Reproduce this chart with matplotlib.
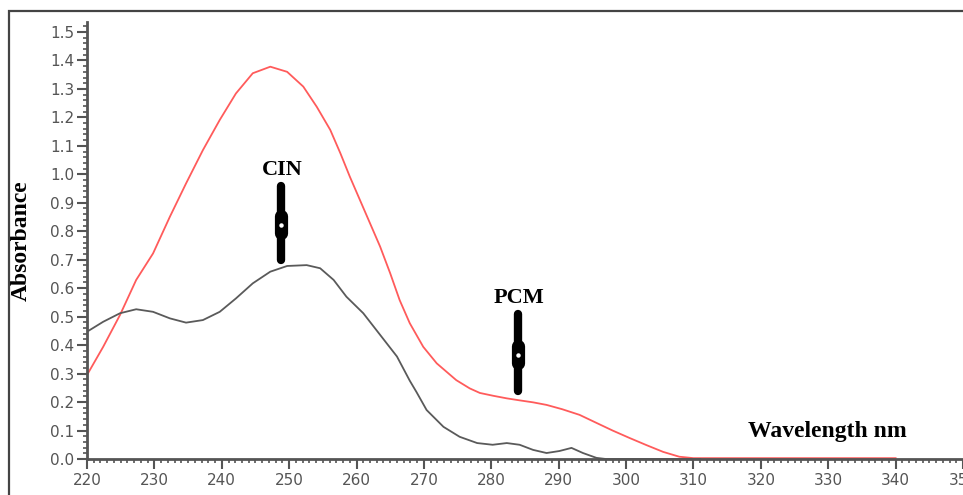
import numpy as np
import matplotlib.pyplot as plt
from matplotlib.ticker import MultipleLocator
from matplotlib.patches import Rectangle

# absorbance spectra (wavelength in nm)
wl_mix = [220, 222.4, 224.9, 227.3, 229.8, 232.3, 234.7, 237.2, 239.7, 242.1,
          244.6, 247.2, 249.7, 252.1, 254.1, 256.1, 257.6, 259.0, 260.5, 262.0,
          263.5, 265.0, 266.4, 267.9, 269.9, 271.9, 274.8, 276.8, 278.3, 280.3,
          282.3, 284.2, 286.2, 288.2, 290.5, 293.1, 295.5, 298.0, 300.5, 303.0,
          305.5, 307.9, 310, 315, 320, 325, 330, 335, 340]
abs_mix = [0.295, 0.394, 0.506, 0.629, 0.722, 0.851, 0.968, 1.085, 1.191, 1.284,
           1.355, 1.378, 1.360, 1.308, 1.237, 1.156, 1.074, 0.992, 0.91, 0.828,
           0.746, 0.652, 0.558, 0.477, 0.394, 0.336, 0.277, 0.248, 0.232, 0.222,
           0.213, 0.206, 0.199, 0.190, 0.175, 0.155, 0.128, 0.100, 0.074, 0.049,
           0.025, 0.008, 0.003, 0.003, 0.003, 0.003, 0.003, 0.003, 0.003]

wl_cin = [220, 222.4, 224.9, 227.3, 229.8, 232.3, 234.7, 237.2, 239.7, 242.1,
          244.6, 247.2, 249.7, 252.6, 254.6, 256.6, 258.5, 261.0, 263.5, 266.0,
          267.9, 268.9, 270.4, 272.9, 275.3, 277.9, 280.2, 282.3, 284.2, 286.2,
          288.2, 290.1, 291.9, 293.6, 295.6, 297.0, 305, 311]
abs_cin = [0.447, 0.482, 0.512, 0.526, 0.517, 0.494, 0.479, 0.488, 0.517, 0.564,
           0.617, 0.658, 0.678, 0.681, 0.670, 0.629, 0.570, 0.512, 0.436, 0.36,
           0.275, 0.235, 0.172, 0.113, 0.078, 0.056, 0.05, 0.056, 0.05, 0.032,
           0.021, 0.028, 0.039, 0.021, 0.004, 0.0, 0.0, 0.0]

# peak markers: label, wavelength, arrow top, arrow bottom
peaks = [('CIN', 248.8, 0.96, 0.70), ('PCM', 283.9, 0.51, 0.24)]

axis_grey = '#555555'

fig = plt.figure(figsize=(9.63, 4.95), dpi=100)
fig.patches.append(Rectangle((9 / 963, -0.1), 1.2, 1 - 11 / 495 + 0.1,
                             transform=fig.transFigure, fill=False,
                             edgecolor='#444444', lw=1.6))
ax = fig.add_axes([87 / 963, 1 - 459 / 495, 1 - 87 / 963, 437 / 495])

ax.plot(wl_mix, abs_mix, color='#ff5b5b', lw=1.3)
ax.plot(wl_cin, abs_cin, color='#5a5a5a', lw=1.3)

for name, x, top, bottom in peaks:
    ax.plot([x, x], [top, bottom], color='black', lw=6,
            solid_capstyle='round')
    mid = bottom + 0.47 * (top - bottom)
    ax.plot([x, x], [mid - 0.03, mid + 0.03], color='black', lw=9.5,
            solid_capstyle='round')
    ax.plot(x, mid, 'o', ms=2.2, color='white')
    ax.text(x + 0.2, top + 0.055, name, ha='center', va='center',
            family='Liberation Serif', weight='bold', fontsize=16)

ax.text(329.8, 0.095, 'Wavelength nm', ha='center', va='center',
        family='Liberation Serif', weight='bold', fontsize=17)
ax.set_ylabel('Absorbance', family='Liberation Serif', weight='bold',
              fontsize=17)
ax.yaxis.set_label_coords(-0.063, 0.5)

ax.set_xlim(220, 350)
ax.set_ylim(0, 1.535)
ax.xaxis.set_major_locator(MultipleLocator(10))
ax.xaxis.set_minor_locator(MultipleLocator(1))
ax.yaxis.set_major_locator(MultipleLocator(0.1))
ax.yaxis.set_minor_locator(MultipleLocator(0.02))
ax.yaxis.set_major_formatter(plt.FormatStrFormatter('%.1f'))

for side in ['top', 'right']:
    ax.spines[side].set_visible(False)
for side in ['left', 'bottom']:
    ax.spines[side].set_color(axis_grey)
    ax.spines[side].set_linewidth(2)
ax.tick_params(which='major', length=7, width=1.5, color=axis_grey,
               labelcolor=axis_grey, labelsize=11)
ax.tick_params(which='minor', length=3, width=1.2, color=axis_grey)
ax.tick_params(axis='x', pad=3)
ax.tick_params(axis='y', pad=2)
ax.set_facecolor('white')

fig.savefig('out.png', dpi=100)
